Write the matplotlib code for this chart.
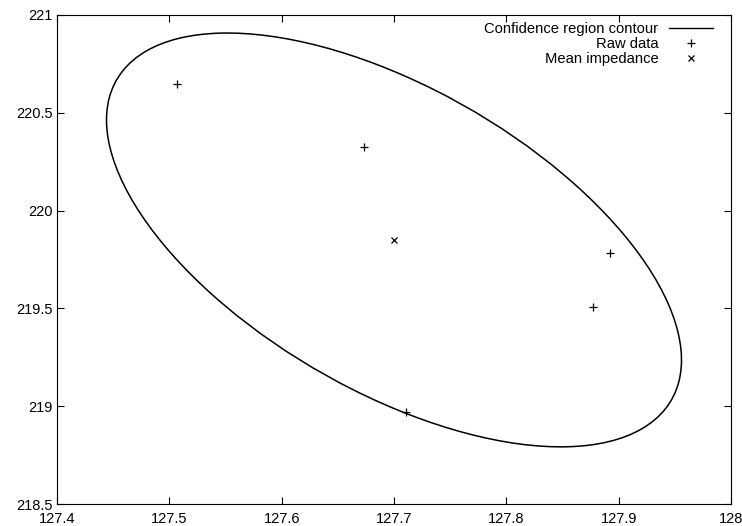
import numpy as np
import matplotlib
matplotlib.use("Agg")
import matplotlib.pyplot as plt
from matplotlib.patches import Ellipse
from matplotlib.lines import Line2D

plt.rcParams['font.family'] = ['Liberation Sans', 'DejaVu Sans']

# Data
raw_x = [127.507, 127.673, 127.892, 127.877, 127.711]
raw_y = [220.646, 220.324, 219.785, 219.507, 218.970]
mean_x = [127.700]
mean_y = [219.850]

# Confidence region (ellipse) parameters: centre and shape matrix
ell_center = (127.700, 219.850)
ell_sxx = 0.0655
ell_syy = 1.119
ell_sxy = -0.157

xticks = [127.4, 127.5, 127.6, 127.7, 127.8, 127.9, 128.0]
xticklabels = ["127.4", "127.5", "127.6", "127.7", "127.8", "127.9", "128"]
yticks = [218.5, 219.0, 219.5, 220.0, 220.5, 221.0]
yticklabels = ["218.5", "219", "219.5", "220", "220.5", "221"]

W, H = 742, 526
fig = plt.figure(figsize=(W / 100, H / 100), dpi=100)
ax = fig.add_axes([57 / W, 1 - 504 / H, (731 - 57) / W, (504 - 15) / H])

M = np.array([[ell_sxx, ell_sxy], [ell_sxy, ell_syy]])
vals, vecs = np.linalg.eigh(M)
ang = np.degrees(np.arctan2(vecs[1, 1], vecs[0, 1]))
ell = Ellipse(ell_center, width=2 * np.sqrt(vals[1]), height=2 * np.sqrt(vals[0]),
              angle=ang, fill=False, edgecolor='black', linewidth=1.1)
ax.add_patch(ell)

ax.plot(raw_x, raw_y, linestyle='none', marker='+', color='black',
        markersize=5.5, markeredgewidth=0.9)
ax.plot(mean_x, mean_y, linestyle='none', marker='x', color='black',
        markersize=5, markeredgewidth=0.9)

ax.set_xlim(127.4, 128.0)
ax.set_ylim(218.5, 221.0)
ax.set_xticks(xticks)
ax.set_xticklabels(xticklabels)
ax.set_yticks(yticks)
ax.set_yticklabels(yticklabels)
ax.tick_params(direction='in', length=5, width=0.8, labelsize=10.5,
               top=True, right=True, pad=3, colors='black')
ax.tick_params(axis='x', pad=6)
for s in ax.spines.values():
    s.set_linewidth(0.8)

handles = [Line2D([], [], color='black', linewidth=1.0),
           Line2D([], [], linestyle='none', marker='+', color='black', markersize=5.5, markeredgewidth=0.9),
           Line2D([], [], linestyle='none', marker='x', color='black', markersize=5, markeredgewidth=0.9)]
labels = ["Confidence region contour", "Raw data", "Mean impedance"]
ax.legend(handles, labels, loc='upper right', bbox_to_anchor=(0.9733, 0.9857),
          frameon=False, markerfirst=False, fontsize=10.6, handlelength=3.0,
          handletextpad=0.7, labelspacing=0.08, borderpad=0, borderaxespad=0)

fig.savefig("out.png", dpi=100)
